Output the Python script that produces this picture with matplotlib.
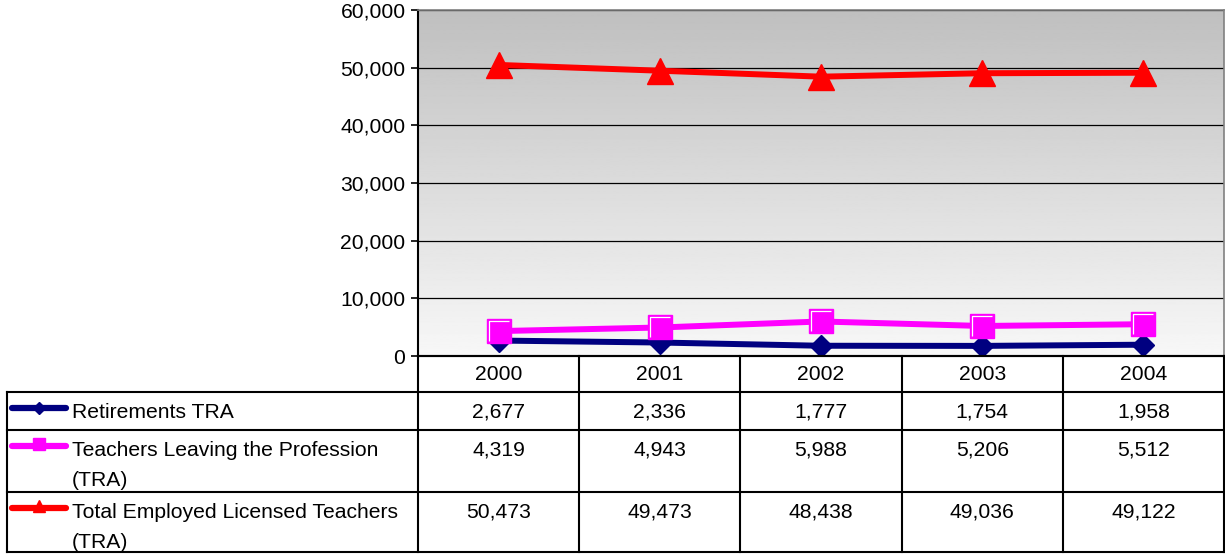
import numpy as np
import matplotlib
matplotlib.use("Agg")
import matplotlib.pyplot as plt
from matplotlib.path import Path

plt.rcParams['font.family'] = ['Liberation Sans', 'DejaVu Sans']

# data
years = ["2000", "2001", "2002", "2003", "2004"]
retirements = [2677, 2336, 1777, 1754, 1958]
leaving = [4319, 4943, 5988, 5206, 5512]
employed = [50473, 49473, 48438, 49036, 49122]
series_names = ["Retirements TRA",
                "Teachers Leaving the Profession\n(TRA)",
                "Total Employed Licensed Teachers\n(TRA)"]
y_ticks = [0, 10000, 20000, 30000, 40000, 50000, 60000]

W, H = 1225, 554
FS = 15.2
fig = plt.figure(figsize=(W / 100, H / 100), dpi=100)

# plot area in pixels
px0, px1, py0, py1 = 418, 1224, 10, 356
ax = fig.add_axes([px0 / W, 1 - py1 / H, (px1 - px0) / W, (py1 - py0) / H])

x = np.arange(len(years))
ax.set_xlim(-0.5, len(years) - 0.5)
ax.set_ylim(0, 60000)

# gradient background
grad = np.linspace(0.97, 0.75, 256).reshape(-1, 1)
ax.imshow(grad, cmap='gray', vmin=0, vmax=1, aspect='auto',
          extent=(-0.5, len(years) - 0.5, 0, 60000), origin='lower', zorder=0)

for t in y_ticks[1:]:
    ax.axhline(t, color='black', lw=0.9, zorder=1)

# white highlight on the top/left edge of the square markers
corner = Path([(-1, -1), (-1, 1), (1, 1)], [Path.MOVETO, Path.LINETO, Path.LINETO])

ax.plot(x, employed, color='#FF0000', lw=4.3, marker='^', ms=19, zorder=3)
ax.plot(x, retirements, color='#000080', lw=4.3, marker='D', ms=11, zorder=3)
ax.plot(x, leaving, color='#FF00FF', lw=4.3, marker='s', ms=17, mec='#FF00FF', zorder=4)
ax.plot(x, leaving, ls='none', marker=corner, ms=14, mfc='none', mec='white', mew=0.9, zorder=5)

ax.set_yticks(y_ticks)
ax.set_yticklabels([f"{v:,}" for v in y_ticks], fontsize=FS)
ax.set_xticks([])
ax.tick_params(axis='y', direction='out', length=5, width=1.2, pad=4)
for s in ['top', 'right']:
    ax.spines[s].set_color('#808080')
    ax.spines[s].set_linewidth(1.2)
ax.spines['left'].set_linewidth(1.5)
ax.spines['bottom'].set_linewidth(1.5)

# data table drawn in pixel space
tab = fig.add_axes([0, 0, 1, 1])
tab.set_xlim(0, W)
tab.set_ylim(H, 0)
tab.axis('off')

col_edges = np.linspace(px0, px1, len(years) + 1)
row_edges = [py1, 392, 430, 492, 552]
lx = 7
lw_t = 1.5
tab.plot([px0, px1], [row_edges[0]] * 2, color='black', lw=lw_t)
for r in row_edges[1:]:
    tab.plot([lx, px1], [r, r], color='black', lw=lw_t)
for c in col_edges:
    tab.plot([c, c], [row_edges[0], row_edges[-1]], color='black', lw=lw_t)
tab.plot([lx, lx], [row_edges[1], row_edges[-1]], color='black', lw=lw_t)

centers = (col_edges[:-1] + col_edges[1:]) / 2
for cx, yr in zip(centers, years):
    tab.text(cx, (row_edges[0] + row_edges[1]) / 2 + 1, yr, ha='center', va='center', fontsize=FS)

rows = [retirements, leaving, employed]
colors = ['#000080', '#FF00FF', '#FF0000']
markers = ['D', 's', '^']
msizes = [6, 8, 9]
for i, (vals, name, c, m, ms) in enumerate(zip(rows, series_names, colors, markers, msizes)):
    top = row_edges[i + 1]
    for cx, v in zip(centers, vals):
        tab.text(cx, top + 20, f"{v:,}", ha='center', va='center', fontsize=FS)
    for j, line in enumerate(name.split('\n')):
        tab.text(72, top + 21 + 29 * j, line, ha='left', va='center', fontsize=FS)
    ky = top + 16
    tab.plot([12, 66], [ky, ky], color=c, lw=4.5, solid_capstyle='round')
    tab.plot([39], [ky - (2 if i else 0)], marker=m, ms=ms, color=c, mec=c)

fig.savefig("out.png", dpi=100)
